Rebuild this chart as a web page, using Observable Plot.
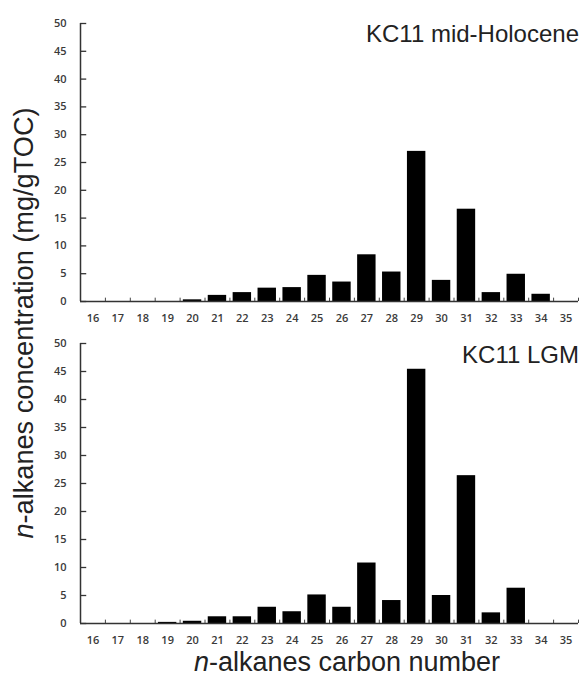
<!DOCTYPE html>
<html><head><meta charset="utf-8">
<script src="https://cdn.jsdelivr.net/npm/d3@7"></script>
<script src="https://cdn.jsdelivr.net/npm/@observablehq/plot@0.6"></script>
<style>
body{margin:0;background:#fff;}
#fig{position:relative;width:584px;height:679px;background:#fff;font-family:"Liberation Sans",Arial,sans-serif;color:#222;overflow:hidden;}
.panel{position:absolute;left:0;overflow:visible;}
.ptitle{position:absolute;right:5px;font-size:24px;line-height:24px;white-space:nowrap;color:#222;}
#overlay{position:absolute;left:0;top:0;pointer-events:none;}
</style></head><body><div id="fig"></div>
<script>
const carbonNumbers = [16,17,18,19,20,21,22,23,24,25,26,27,28,29,30,31,32,33,34,35];
const midHolocene = [0,0,0,0,0.3,1.1,1.6,2.4,2.5,4.7,3.5,8.4,5.3,27.0,3.8,16.6,1.6,4.9,1.3,0];
const lgm = [0,0,0,0.2,0.4,1.2,1.2,2.9,2.1,5.1,2.9,10.8,4.1,45.4,5.0,26.4,1.9,6.3,0,0];
const yTicks = [0,5,10,15,20,25,30,35,40,45,50];
const panelTitles = ["KC11 mid-Holocene","KC11 LGM"];
const yTitle = "-alkanes concentration (mg/gTOC)";
const xTitle = "-alkanes carbon number";

const fig = document.getElementById("fig");

function panel(values, h, mt, mb) {
  const data = carbonNumbers.map((c, i) => ({c, v: values[i]}));
  const bounds = carbonNumbers.map(c => c - 0.5).concat([carbonNumbers[carbonNumbers.length - 1] + 0.5]);
  const x0 = bounds[0], x1 = bounds[bounds.length - 1];
  return Plot.plot({
    width: 584, height: h,
    marginLeft: 80, marginRight: 6, marginTop: mt, marginBottom: mb,
    style: {fontFamily: "'Open Sans', sans-serif", fontSize: "11px", color: "#3a3a3a", background: "transparent", overflow: "visible"},
    x: {domain: [x0, x1]},
    y: {domain: [0, 50]},
    marks: [
      Plot.rectY(data, {x1: d => d.c - 0.37, x2: d => d.c + 0.37, y: "v", fill: "#000"}),
      Plot.axisY({ticks: yTicks, tickSize: 0, tickPadding: 14, label: null, fill: "#3a3a3a", fontSize: 11, fontWeight: 600}),
      Plot.ruleY(yTicks, {y: d => d, x1: x0, x2: x0 + 0.25, stroke: "#333", strokeWidth: 1.3}),
      Plot.axisX({ticks: carbonNumbers, tickSize: 0, tickPadding: 13, tickFormat: d => String(d), label: null, fill: "#3a3a3a", fontSize: 11, fontWeight: 600}),
      Plot.ruleX(bounds.slice(1), {x: d => d, y1: 0, y2: 0.6, stroke: "#444", strokeWidth: 1}),
      Plot.ruleX([x0], {y1: 0, y2: 50, stroke: "#333", strokeWidth: 1.5}),
      Plot.ruleY([0], {x1: x0, x2: x1, stroke: "#333", strokeWidth: 1.5})
    ]
  });
}

const p1 = panel(midHolocene, 322, 23, 21);
p1.classList.add("panel"); p1.style.top = "0px";
fig.appendChild(p1);
const p2 = panel(lgm, 322, 21, 21);
p2.classList.add("panel"); p2.style.top = "322px";
fig.appendChild(p2);

const titleTops = [21.5, 342.5];
panelTitles.forEach((t, i) => {
  const d = document.createElement("div");
  d.className = "ptitle";
  d.style.top = titleTops[i] + "px";
  d.textContent = t;
  fig.appendChild(d);
});

const ns = "http://www.w3.org/2000/svg";
const ov = document.createElementNS(ns, "svg");
ov.setAttribute("id", "overlay");
ov.setAttribute("width", 584);
ov.setAttribute("height", 679);
function addTitle(txt, transform, size) {
  const t = document.createElementNS(ns, "text");
  t.setAttribute("transform", transform);
  t.setAttribute("text-anchor", "middle");
  t.setAttribute("font-size", size);
  t.setAttribute("fill", "#222");
  t.setAttribute("font-family", "'Liberation Sans', Arial, sans-serif");
  const it = document.createElementNS(ns, "tspan");
  it.setAttribute("font-style", "italic");
  it.textContent = "n";
  const rest = document.createElementNS(ns, "tspan");
  rest.textContent = txt;
  t.appendChild(it); t.appendChild(rest);
  ov.appendChild(t);
}
addTitle(yTitle, "translate(33,323) rotate(-90) scale(0.97,1)", 28);
addTitle(xTitle, "translate(347,671)", 27);
fig.appendChild(ov);
</script>
</body></html>
